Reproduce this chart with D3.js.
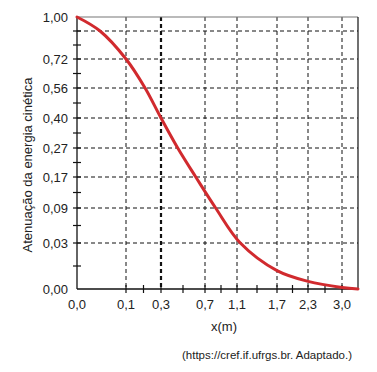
<!DOCTYPE html>
<html>
<head>
<meta charset="utf-8">
<script src="https://cdn.jsdelivr.net/npm/d3@7"></script>
<style>
  body { margin: 0; background: #fff; }
  text { font-family: "Liberation Sans", Arial, sans-serif; fill: #222; }
</style>
</head>
<body>
<div id="chart"></div>
<script>
// axis values (the graph uses a non-uniform grid, so scales are piecewise)
const xTicks = [0, 0.1, 0.3, 0.7, 1.1, 1.7, 2.3, 3.0];
const xLabels = ["0,0", "0,1", "0,3", "0,7", "1,1", "1,7", "2,3", "3,0"];
const xMinor = [0.2, 0.5, 0.9, 1.4, 2.0, 2.65];
const xMax = 3.33;

const yTicks = [0, 0.03, 0.09, 0.17, 0.27, 0.40, 0.56, 0.72, 0.86, 1.00];
const yLabels = ["0,00", "0,03", "0,09", "0,17", "0,27", "0,40", "0,56", "0,72", "", "1,00"];
const yMinor = [0.015, 0.06, 0.13, 0.22, 0.335, 0.48, 0.64, 0.79];

// curve
const curveX = [0, 0.047, 0.1, 0.209, 0.3, 0.452, 0.616, 0.833, 1.15, 1.7, 2.3, 3.0, 3.33];
const curveY = [1.00, 0.86, 0.72, 0.56, 0.40, 0.27, 0.17, 0.09, 0.03, 0.012, 0.005, 0.001, 0.0];

const width = 377, height = 372;
const mLeft = 77, mTop = 17, w = 281, h = 272;

// pixel offsets of the grid lines inside the plot
const xStops = [0, 49, 84, 128, 160, 200, 231, 265, w];
const yStops = [h, 226, 191, 160, 131, 101, 71, 42, 14, 0];

const x = d3.scaleLinear().domain(xTicks.concat([xMax])).range(xStops.map(d => mLeft + d));
const y = d3.scaleLinear().domain(yTicks).range(yStops.map(d => mTop + d));

const svg = d3.select("#chart").append("svg")
    .attr("width", width)
    .attr("height", height);

// grid
const grid = svg.append("g").attr("stroke", "#111").attr("stroke-dasharray", "4,3");
grid.selectAll(".vg").data(xTicks.slice(1)).enter().append("line")
    .attr("x1", d => x(d)).attr("x2", d => x(d))
    .attr("y1", mTop).attr("y2", mTop + h)
    .attr("stroke-width", d => d === 0.3 ? 2.2 : 1);
grid.selectAll(".hg").data(yTicks.slice(1, -1)).enter().append("line")
    .attr("x1", mLeft).attr("x2", mLeft + w)
    .attr("y1", d => y(d)).attr("y2", d => y(d))
    .attr("stroke-width", 1);

// frame
svg.append("line").attr("x1", mLeft).attr("x2", mLeft + w).attr("y1", mTop).attr("y2", mTop)
    .attr("stroke", "#777").attr("stroke-width", 1.2);
svg.append("line").attr("x1", mLeft + w).attr("x2", mLeft + w).attr("y1", mTop).attr("y2", mTop + h)
    .attr("stroke", "#111").attr("stroke-width", 1.2);

// axes
svg.append("line").attr("x1", mLeft).attr("x2", mLeft + w).attr("y1", mTop + h).attr("y2", mTop + h)
    .attr("stroke", "#111").attr("stroke-width", 1.3);
svg.append("line").attr("x1", mLeft).attr("x2", mLeft).attr("y1", mTop).attr("y2", mTop + h)
    .attr("stroke", "#111").attr("stroke-width", 1.3);

svg.append("g").selectAll("line").data(xTicks.slice(1).concat(xMinor)).enter().append("line")
    .attr("x1", d => x(d)).attr("x2", d => x(d))
    .attr("y1", mTop + h - 4).attr("y2", mTop + h + 4)
    .attr("stroke", "#111").attr("stroke-width", 1.2);
svg.append("g").selectAll("line").data(yTicks.slice(1, -1).concat(yMinor)).enter().append("line")
    .attr("x1", mLeft - 4).attr("x2", mLeft + 4)
    .attr("y1", d => y(d)).attr("y2", d => y(d))
    .attr("stroke", "#111").attr("stroke-width", 1.2);

// tick labels
svg.append("g").selectAll("text").data(xTicks).enter().append("text")
    .attr("x", d => x(d)).attr("y", mTop + h + 20)
    .attr("text-anchor", "middle").attr("font-size", 13)
    .text((d, i) => xLabels[i]);
svg.append("g").selectAll("text").data(yTicks).enter().append("text")
    .attr("x", mLeft - 9).attr("y", d => y(d)).attr("dy", "0.35em")
    .attr("text-anchor", "end").attr("font-size", 13)
    .text((d, i) => yLabels[i]);

// curve
const pts = curveX.map((d, i) => [d, curveY[i]]);
const line = d3.line().x(d => x(d[0])).y(d => y(d[1])).curve(d3.curveCatmullRom.alpha(0.5));
svg.append("path").datum(pts).attr("d", line)
    .attr("fill", "none").attr("stroke", "#d12a2e").attr("stroke-width", 3)
    .attr("stroke-linecap", "round");

// titles
svg.append("text").attr("x", 224).attr("y", 331)
    .attr("text-anchor", "middle").attr("font-size", 13).text("x(m)");
svg.append("text")
    .attr("transform", `translate(32,${mTop + h / 2 + 12}) rotate(-90)`)
    .attr("text-anchor", "middle").attr("font-size", 13)
    .text("Atenuação da energia cinética");
svg.append("text").attr("x", 267).attr("y", 359)
    .attr("text-anchor", "middle").attr("font-size", 11.5)
    .text("(https://cref.if.ufrgs.br. Adaptado.)");
</script>
</body>
</html>
